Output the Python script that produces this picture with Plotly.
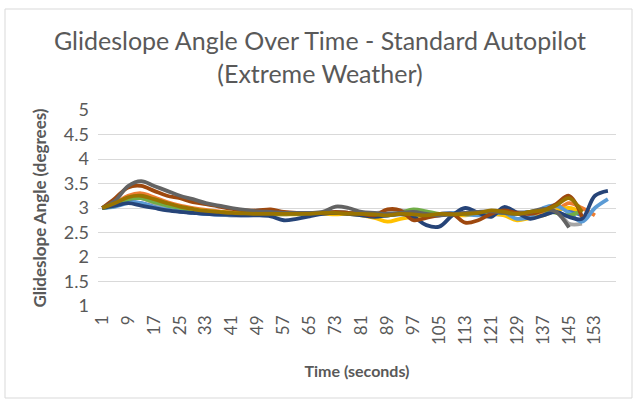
import plotly.graph_objects as go

# Sample times (seconds) at which values were read
t_full = [1, 5, 9, 13, 17, 21, 25, 29, 33, 37, 41, 45, 49, 53, 57, 61, 65, 69, 73, 77,
          81, 85, 89, 93, 97, 101, 105, 109, 113, 117, 121, 125, 129, 133, 137, 141, 145, 149, 153, 157]

s1_blue = [3.0, 3.05, 3.12, 3.1, 3.03, 2.97, 2.93, 2.9, 2.88, 2.86, 2.85, 2.85, 2.86, 2.87, 2.87, 2.88, 2.88, 2.88, 2.9, 2.88,
           2.87, 2.86, 2.85, 2.87, 2.85, 2.83, 2.85, 2.88, 2.9, 2.9, 2.88, 2.87, 2.9, 2.92, 2.95, 3.05, 2.95, 2.85]
s2_orange = [3.0, 3.1, 3.25, 3.3, 3.22, 3.12, 3.05, 3.0, 2.96, 2.93, 2.9, 2.88, 2.88, 2.88, 2.88, 2.88, 2.9, 2.9, 2.92, 2.9,
             2.88, 2.85, 2.95, 2.9, 2.88, 2.85, 2.88, 2.9, 2.88, 2.88, 2.9, 2.92, 2.9, 2.88, 2.9, 2.95, 3.1, 3.0, 2.85]
s3_gray = [3.0, 3.05, 3.2, 3.2, 3.1, 3.02, 2.97, 2.93, 2.9, 2.87, 2.85, 2.86, 2.88, 2.9, 2.9, 2.9, 2.88, 2.88, 2.9, 2.88,
           2.88, 2.9, 2.92, 2.95, 2.9, 2.87, 2.88, 2.9, 2.88, 2.88, 2.9, 2.93, 2.92, 2.9, 2.95, 2.98, 2.68, 2.68]
s4_yellow = [3.0, 3.08, 3.2, 3.22, 3.15, 3.08, 3.02, 2.97, 2.94, 2.92, 2.9, 2.88, 2.88, 2.87, 2.87, 2.87, 2.88, 2.88, 2.87, 2.88,
             2.85, 2.8, 2.72, 2.78, 2.82, 2.85, 2.88, 2.87, 2.85, 2.9, 2.88, 2.85, 2.75, 2.8, 2.85, 2.95, 3.0, 2.92]
s5_lightblue = [3.0, 3.03, 3.1, 3.1, 3.02, 2.97, 2.93, 2.9, 2.88, 2.87, 2.86, 2.88, 2.95, 2.92, 2.9, 2.88, 2.88, 2.9, 2.92, 2.9,
                2.88, 2.87, 2.85, 2.88, 2.86, 2.85, 2.88, 2.9, 2.87, 2.85, 2.88, 2.9, 2.78, 2.82, 3.0, 3.05, 2.9, 2.72, 3.0, 3.18]
s6_green = [3.0, 3.05, 3.18, 3.2, 3.12, 3.05, 3.0, 2.95, 2.92, 2.9, 2.88, 2.87, 2.87, 2.88, 2.88, 2.88, 2.88, 2.9, 2.9, 2.9,
            2.88, 2.87, 2.85, 2.9, 2.97, 2.93, 2.88, 2.87, 2.88, 2.9, 2.92, 2.9, 2.88, 2.92, 2.95, 2.9, 2.85, 2.95]
s7_darkblue = [3.0, 3.05, 3.1, 3.05, 3.0, 2.95, 2.92, 2.9, 2.88, 2.87, 2.86, 2.85, 2.85, 2.83, 2.75, 2.78, 2.83, 2.88, 2.9, 2.88,
               2.85, 2.82, 2.85, 2.88, 2.82, 2.65, 2.62, 2.85, 3.0, 2.9, 2.82, 3.02, 2.9, 2.78, 2.85, 2.92, 2.82, 2.78, 3.25, 3.35]
s8_darkorange = [3.0, 3.2, 3.42, 3.45, 3.35, 3.25, 3.2, 3.12, 3.08, 3.03, 2.98, 2.95, 2.95, 2.97, 2.92, 2.9, 2.9, 2.9, 2.92, 2.9,
                 2.88, 2.85, 2.97, 2.95, 2.75, 2.8, 2.85, 2.88, 2.7, 2.75, 2.88, 2.95, 2.9, 2.88, 2.95, 3.08, 3.25, 2.82]
s9_darkgray = [3.0, 3.15, 3.45, 3.55, 3.45, 3.35, 3.25, 3.18, 3.1, 3.05, 3.0, 2.96, 2.93, 2.92, 2.9, 2.9, 2.9, 2.92, 3.03, 3.0,
               2.92, 2.9, 2.88, 2.9, 2.92, 2.88, 2.85, 2.87, 2.9, 2.92, 2.93, 2.9, 2.88, 2.92, 2.98, 2.92, 2.6]
s10_darkgold = [3.0, 3.1, 3.22, 3.25, 3.18, 3.1, 3.03, 2.98, 2.94, 2.92, 2.9, 2.89, 2.88, 2.88, 2.88, 2.88, 2.88, 2.9, 2.9, 2.88,
                2.88, 2.87, 2.85, 2.88, 2.87, 2.85, 2.88, 2.87, 2.88, 2.9, 2.95, 2.92, 2.88, 2.92, 2.95, 3.05, 3.2, 2.92]

series = [
    ("Series1", s1_blue, "#4472C4"),
    ("Series2", s2_orange, "#ED7D31"),
    ("Series3", s3_gray, "#A5A5A5"),
    ("Series4", s4_yellow, "#FFC000"),
    ("Series5", s5_lightblue, "#5B9BD5"),
    ("Series6", s6_green, "#70AD47"),
    ("Series7", s7_darkblue, "#264478"),
    ("Series8", s8_darkorange, "#9E480E"),
    ("Series9", s9_darkgray, "#636363"),
    ("Series10", s10_darkgold, "#997300"),
]

x_ticks = list(range(1, 160, 8))
y_ticks = [1, 1.5, 2, 2.5, 3, 3.5, 4, 4.5, 5]

fig = go.Figure()
for name, vals, color in series:
    fig.add_trace(go.Scatter(
        x=t_full[:len(vals)], y=vals, mode="lines", name=name,
        line=dict(color=color, width=3.8, shape="spline", smoothing=1.0),
        showlegend=False,
    ))

font_family = "Lato, 'Open Sans', sans-serif"
txt = "#595959"

W, H = 633, 400
L, R, T, B = 98, 17, 110, 94
pw, ph = W - L - R, H - T - B

fig.update_layout(
    width=W, height=H,
    margin=dict(l=L, r=R, t=T, b=B),
    paper_bgcolor="white", plot_bgcolor="white",
    font=dict(family=font_family, color=txt),
    title=dict(
        text="Glideslope Angle Over Time - Standard Autopilot<br>(Extreme Weather)",
        x=320 / W, xanchor="center", xref="container", y=1 - 50 / H, yanchor="top",
        font=dict(size=25, color=txt, family=font_family),
    ),
    xaxis=dict(
        range=[-0.3, 159.5], tickmode="array", tickvals=x_ticks,
        ticktext=[str(v) for v in x_ticks], tickangle=-90,
        showgrid=False, zeroline=False, showline=False, ticks="",
        tickfont=dict(size=17, color=txt), ticklabelstandoff=5,
        title=dict(text="<b>Time (seconds)</b>", font=dict(size=16, color=txt), standoff=21),
    ),
    yaxis=dict(
        range=[1, 5], tickmode="array", tickvals=y_ticks,
        ticktext=["1", "1.5", "2", "2.5", "3", "3.5", "4", "4.5", "5"],
        showgrid=True, gridcolor="#D9D9D9", gridwidth=1,
        zeroline=False, showline=False, ticks="",
        tickfont=dict(size=18, color=txt), ticklabelstandoff=8,
        title=dict(text="<b>Glideslope Angle (degrees)</b>", font=dict(size=17, color=txt), standoff=12),
    ),
)

# Chart area border
fig.add_shape(type="rect", xref="paper", yref="paper",
              x0=(5 - L) / pw, x1=(632 - L) / pw,
              y0=(H - B - 398) / ph, y1=(H - B - 9) / ph,
              line=dict(color="#D9D9D9", width=1), fillcolor="rgba(0,0,0,0)", layer="below")

fig.write_html("out.html")
